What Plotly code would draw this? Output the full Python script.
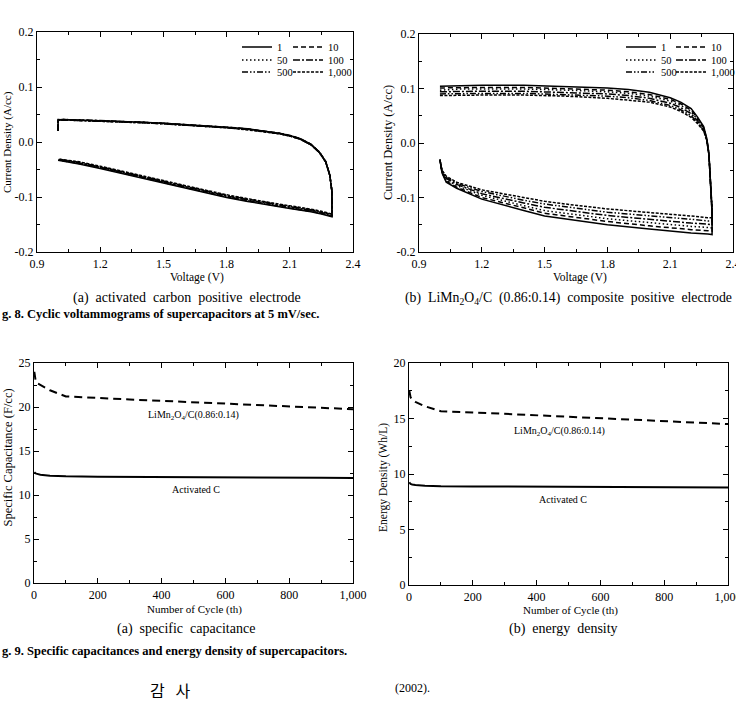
import plotly.graph_objects as go

W, H = 736, 704

# ---------------- Fig. 8 : cyclic voltammograms ----------------
CYCLE_NAMES = ["1", "10", "50", "100", "500", "1,000"]

# (a) activated carbon positive electrode
VOLT_A = [1.0, 1.0, 1.02, 1.1, 1.2, 1.3, 1.4, 1.5, 1.6, 1.7, 1.8, 1.9, 2.0, 2.05, 2.1, 2.15,
          2.2, 2.24, 2.27, 2.29, 2.30, 2.30, 2.25, 2.2, 2.1, 2.0, 1.9, 1.8, 1.7, 1.6, 1.5,
          1.4, 1.3, 1.2, 1.1, 1.0]
CUR_A_1 = [0.020, 0.040, 0.041, 0.040, 0.039, 0.038, 0.036, 0.034, 0.032, 0.030, 0.027, 0.024,
           0.019, 0.016, 0.012, 0.006, -0.004, -0.018, -0.035, -0.060, -0.090, -0.136, -0.131,
           -0.127, -0.121, -0.115, -0.108, -0.101, -0.092, -0.084, -0.075, -0.066, -0.057,
           -0.048, -0.040, -0.033]
CUR_A_10 = [0.020, 0.041, 0.041, 0.040, 0.039, 0.038, 0.036, 0.034, 0.032, 0.030, 0.027, 0.024,
            0.019, 0.016, 0.012, 0.006, -0.004, -0.018, -0.035, -0.060, -0.090, -0.135, -0.130,
            -0.126, -0.120, -0.114, -0.107, -0.100, -0.091, -0.083, -0.074, -0.065, -0.056,
            -0.047, -0.039, -0.033]
CUR_A_50 = [0.020, 0.040, 0.041, 0.040, 0.039, 0.038, 0.036, 0.034, 0.032, 0.029, 0.027, 0.023,
            0.019, 0.016, 0.012, 0.006, -0.004, -0.018, -0.035, -0.060, -0.090, -0.134, -0.129,
            -0.125, -0.119, -0.113, -0.106, -0.099, -0.090, -0.082, -0.073, -0.064, -0.055,
            -0.046, -0.038, -0.032]
CUR_A_100 = [0.020, 0.040, 0.040, 0.040, 0.039, 0.037, 0.036, 0.034, 0.031, 0.029, 0.026, 0.023,
             0.018, 0.015, 0.011, 0.005, -0.005, -0.019, -0.036, -0.061, -0.090, -0.133, -0.128,
             -0.124, -0.118, -0.112, -0.105, -0.098, -0.090, -0.081, -0.072, -0.063, -0.054,
             -0.046, -0.038, -0.032]
CUR_A_500 = [0.020, 0.040, 0.040, 0.039, 0.038, 0.037, 0.035, 0.033, 0.031, 0.029, 0.026, 0.023,
             0.018, 0.015, 0.011, 0.005, -0.005, -0.019, -0.036, -0.061, -0.090, -0.132, -0.127,
             -0.123, -0.117, -0.111, -0.104, -0.097, -0.089, -0.080, -0.071, -0.062, -0.054,
             -0.045, -0.037, -0.031]
CUR_A_1000 = [0.020, 0.039, 0.040, 0.039, 0.038, 0.037, 0.035, 0.033, 0.031, 0.028, 0.026, 0.022,
              0.018, 0.015, 0.011, 0.005, -0.005, -0.019, -0.036, -0.061, -0.090, -0.131, -0.126,
              -0.122, -0.116, -0.110, -0.103, -0.096, -0.088, -0.079, -0.070, -0.061, -0.053,
              -0.044, -0.036, -0.031]

# (b) LiMn2O4/C (0.86:0.14) composite positive electrode
VOLT_B = [1.0, 1.1, 1.2, 1.4, 1.6, 1.8, 1.9, 2.0, 2.1, 2.15, 2.2, 2.23, 2.26, 2.275, 2.285, 2.293,
          2.30, 2.30, 2.28, 2.2, 2.1, 2.0, 1.8, 1.6, 1.5, 1.4, 1.2, 1.08, 1.03, 1.01, 1.0]
CUR_B_1 = [0.104, 0.105, 0.106, 0.106, 0.104, 0.101, 0.098, 0.093, 0.083, 0.075, 0.063, 0.048,
           0.030, 0.008, -0.020, -0.070, -0.130, -0.168, -0.167, -0.165, -0.162, -0.158, -0.150,
           -0.140, -0.134, -0.124, -0.103, -0.083, -0.072, -0.055, -0.030]
CUR_B_10 = [0.101, 0.102, 0.102, 0.102, 0.100, 0.097, 0.094, 0.089, 0.080, 0.072, 0.060, 0.046,
            0.028, 0.007, -0.020, -0.070, -0.128, -0.162, -0.161, -0.159, -0.156, -0.152, -0.144,
            -0.134, -0.129, -0.119, -0.100, -0.081, -0.070, -0.054, -0.030]
CUR_B_50 = [0.097, 0.099, 0.099, 0.099, 0.097, 0.094, 0.091, 0.086, 0.077, 0.069, 0.057, 0.044,
            0.027, 0.007, -0.021, -0.070, -0.126, -0.156, -0.155, -0.153, -0.150, -0.146, -0.139,
            -0.129, -0.124, -0.115, -0.096, -0.078, -0.068, -0.053, -0.031]
CUR_B_100 = [0.094, 0.095, 0.095, 0.095, 0.093, 0.090, 0.087, 0.082, 0.073, 0.065, 0.054, 0.041,
             0.025, 0.006, -0.021, -0.070, -0.124, -0.150, -0.149, -0.147, -0.144, -0.140, -0.133,
             -0.123, -0.118, -0.110, -0.093, -0.076, -0.065, -0.052, -0.031]
CUR_B_500 = [0.090, 0.091, 0.091, 0.091, 0.089, 0.086, 0.083, 0.078, 0.069, 0.061, 0.050, 0.038,
             0.023, 0.005, -0.022, -0.070, -0.122, -0.143, -0.143, -0.140, -0.137, -0.134, -0.127,
             -0.117, -0.112, -0.105, -0.089, -0.074, -0.063, -0.051, -0.032]
CUR_B_1000 = [0.087, 0.088, 0.088, 0.088, 0.086, 0.082, 0.079, 0.075, 0.066, 0.058, 0.047, 0.036,
              0.022, 0.004, -0.022, -0.070, -0.120, -0.137, -0.137, -0.134, -0.131, -0.128, -0.121,
              -0.112, -0.107, -0.100, -0.086, -0.072, -0.061, -0.050, -0.032]

CV_TICKS_X = [0.9, 1.2, 1.5, 1.8, 2.1, 2.4]
CV_TICKTEXT_X = ["0.9", "1.2", "1.5", "1.8", "2.1", "2.4"]
CV_TICKS_Y = [-0.2, -0.1, 0.0, 0.1, 0.2]
CV_TICKTEXT_Y = ["-0.2", "-0.1", "0.0", "0.1", "0.2"]

# ---------------- Fig. 9 : capacitance & energy density ----------------
CYCLES = [1, 5, 10, 20, 50, 100, 200, 300, 400, 500, 600, 700, 800, 900, 1000]
CAP_LMO = [24.0, 23.0, 22.7, 22.5, 21.9, 21.2, 21.0, 20.85, 20.7, 20.55, 20.4, 20.25, 20.1, 19.95, 19.75]
CAP_AC = [12.6, 12.45, 12.4, 12.3, 12.2, 12.12, 12.08, 12.05, 12.03, 12.01, 12.0, 11.98, 11.96, 11.95, 11.93]
EN_LMO = [17.5, 16.9, 16.7, 16.5, 16.1, 15.65, 15.55, 15.42, 15.3, 15.15, 15.0, 14.9, 14.8, 14.65, 14.5]
EN_AC = [9.25, 9.1, 9.05, 9.0, 8.95, 8.9, 8.88, 8.86, 8.85, 8.84, 8.83, 8.82, 8.81, 8.8, 8.78]

CYC_TICKS = [0, 200, 400, 600, 800, 1000]
CYC_TICKTEXT = ["0", "200", "400", "600", "800", "1,000"]

# ---------------- styling ----------------
SERIF = "Liberation Serif, Times New Roman, serif"
DASHES = ["solid", "5px,3px", "1.5px,2.5px", "7px,2px,2px,2px",
          "6px,2px,1.5px,2px,1.5px,2px", "3px,1.5px"]


def px_x(x):
    return x / W


def px_y(y):
    return 1 - y / H


fig = go.Figure()

cur_a = [CUR_A_1, CUR_A_10, CUR_A_50, CUR_A_100, CUR_A_500, CUR_A_1000]
cur_b = [CUR_B_1, CUR_B_10, CUR_B_50, CUR_B_100, CUR_B_500, CUR_B_1000]

# one single-entry legend per legend cell (3 rows x 2 columns per panel)
LEG_ROWS_Y = [47, 60, 72]
LEG_COLS_A = [237, 288]
LEG_COLS_B = [621, 671]
legend_layouts = {}
for panel, (curs, volt, xa, ya, cols) in enumerate(
        [(cur_a, VOLT_A, "x", "y", LEG_COLS_A), (cur_b, VOLT_B, "x2", "y2", LEG_COLS_B)]):
    for i, name in enumerate(CYCLE_NAMES):
        idx = panel * 6 + i + 1
        lid = "legend" if idx == 1 else f"legend{idx}"
        row, col = i // 2, i % 2
        legend_layouts[lid] = dict(x=px_x(cols[col]), y=px_y(LEG_ROWS_Y[row]),
                                   xanchor="left", yanchor="middle", bgcolor="rgba(0,0,0,0)",
                                   borderwidth=0, itemwidth=30,
                                   font=dict(family=SERIF, size=10.5, color="black"))
        fig.add_trace(go.Scatter(x=volt, y=curs[i], mode="lines", name=name,
                                 line=dict(color="black", width=1.5, dash=DASHES[i]),
                                 xaxis=xa, yaxis=ya, legend=lid))

fig.add_trace(go.Scatter(x=CYCLES, y=CAP_LMO, mode="lines", showlegend=False,
                         line=dict(color="black", width=2, dash="8px,5px"), xaxis="x3", yaxis="y3"))
fig.add_trace(go.Scatter(x=CYCLES, y=CAP_AC, mode="lines", showlegend=False,
                         line=dict(color="black", width=2), xaxis="x3", yaxis="y3"))
fig.add_trace(go.Scatter(x=CYCLES, y=EN_LMO, mode="lines", showlegend=False,
                         line=dict(color="black", width=2, dash="8px,5px"), xaxis="x4", yaxis="y4"))
fig.add_trace(go.Scatter(x=CYCLES, y=EN_AC, mode="lines", showlegend=False,
                         line=dict(color="black", width=2), xaxis="x4", yaxis="y4"))


def axis(domain, rng, tickvals, ticktext, minor_dtick, anchor):
    return dict(domain=domain, range=rng, tickvals=tickvals, ticktext=ticktext,
                ticks="inside", ticklen=5, tickwidth=1, tickcolor="black",
                showline=True, linecolor="black", linewidth=1.2, mirror="allticks",
                showgrid=False, zeroline=False, anchor=anchor, ticklabeloverflow="allow",
                tickfont=dict(family=SERIF, size=12, color="black"),
                minor=dict(ticks="inside", ticklen=3, tickcolor="black", dtick=minor_dtick,
                           tick0=0 if rng[0] >= 0 else rng[0], showgrid=False))


layout = dict(
    width=W, height=H, margin=dict(l=0, r=0, t=0, b=0, autoexpand=False),
    paper_bgcolor="white", plot_bgcolor="white",
    font=dict(family=SERIF, color="black"),
    xaxis=axis([px_x(37), px_x(353)], [0.9, 2.4], CV_TICKS_X, CV_TICKTEXT_X, 0.15, "y"),
    yaxis=axis([px_y(252), px_y(32)], [-0.2, 0.2], CV_TICKS_Y, CV_TICKTEXT_Y, 0.05, "x"),
    xaxis2=axis([px_x(419), px_x(733)], [0.9, 2.4], CV_TICKS_X, CV_TICKTEXT_X, 0.15, "y2"),
    yaxis2=axis([px_y(252), px_y(34)], [-0.2, 0.2], CV_TICKS_Y, CV_TICKTEXT_Y, 0.05, "x2"),
    xaxis3=axis([px_x(34), px_x(353)], [0, 1000], CYC_TICKS, CYC_TICKTEXT, 100, "y3"),
    yaxis3=axis([px_y(583), px_y(363)], [0, 25], [0, 5, 10, 15, 20, 25],
                ["0", "5", "10", "15", "20", "25"], 2.5, "x3"),
    xaxis4=axis([px_x(409), px_x(728)], [0, 1000], CYC_TICKS, CYC_TICKTEXT, 100, "y4"),
    yaxis4=axis([px_y(585), px_y(363)], [0, 20], [0, 5, 10, 15, 20],
                ["0", "5", "10", "15", "20"], 2.5, "x4"),
)
layout.update(legend_layouts)
fig.update_layout(**layout)

ann = []


def text_px(x, y, text, size=11, angle=0, xanchor="center", family=SERIF):
    ann.append(dict(x=px_x(x), y=px_y(y), xref="paper", yref="paper", text=text,
                    showarrow=False, textangle=angle, xanchor=xanchor, yanchor="middle",
                    font=dict(family=family, size=size, color="black")))


# axis titles
text_px(8, 142, "Current Density (A/cc)", size=11, angle=-90)
text_px(388, 143, "Current Density (A/cc)", size=12.5, angle=-90)
text_px(197, 277, "Voltage (V)", size=11.5)
text_px(580, 277, "Voltage (V)", size=11.5)
text_px(7.5, 458, "Specific Capacitance (F/cc)", size=12.5, angle=-90)
text_px(383, 477, "Energy Density (Wh/L)", size=11.5, angle=-90)
text_px(194, 609, "Number of Cycle (th)", size=11)
text_px(570, 610, "Number of Cycle (th)", size=11)

NB = "\u00a0\u00a0"
text_px(187, 298, "(a)" + NB + "activated" + NB + "carbon" + NB + "positive" + NB + "electrode", size=14)
text_px(568, 298, "(b)" + NB + "LiMn<sub>2</sub>O<sub>4</sub>/C" + NB + "(0.86:0.14)" + NB +
        "composite" + NB + "positive" + NB + "electrode", size=13.8)
text_px(0, 314, "<b>g. 8. Cyclic voltammograms of supercapacitors at 5 mV/sec.</b>", size=12.5,
        xanchor="left")
text_px(186, 629, "(a)" + NB + "specific" + NB + "capacitance", size=14)
text_px(563, 629, "(b)" + NB + "energy" + NB + "density", size=14)
text_px(0, 651, "<b>g. 9. Specific capacitances and energy density of supercapacitors.</b>",
        size=12.5, xanchor="left")
text_px(170, 690, "감\u00a0\u00a0\u00a0사", size=16, family="Noto Sans CJK KR")
text_px(412, 688, "(2002).", size=12)

# series labels (data coordinates)
for xr, yr, x, y, t in [("x3", "y3", 500, 19.0, "LiMn<sub>2</sub>O<sub>4</sub>/C(0.86:0.14)"),
                        ("x3", "y3", 508, 10.6, "Activated C"),
                        ("x4", "y4", 473, 13.8, "LiMn<sub>2</sub>O<sub>4</sub>/C(0.86:0.14)"),
                        ("x4", "y4", 483, 7.66, "Activated C")]:
    ann.append(dict(x=x, y=y, xref=xr, yref=yr, text=t, showarrow=False,
                    font=dict(family=SERIF, size=10, color="black")))

fig.update_layout(annotations=ann)
fig.write_html("out.html")
